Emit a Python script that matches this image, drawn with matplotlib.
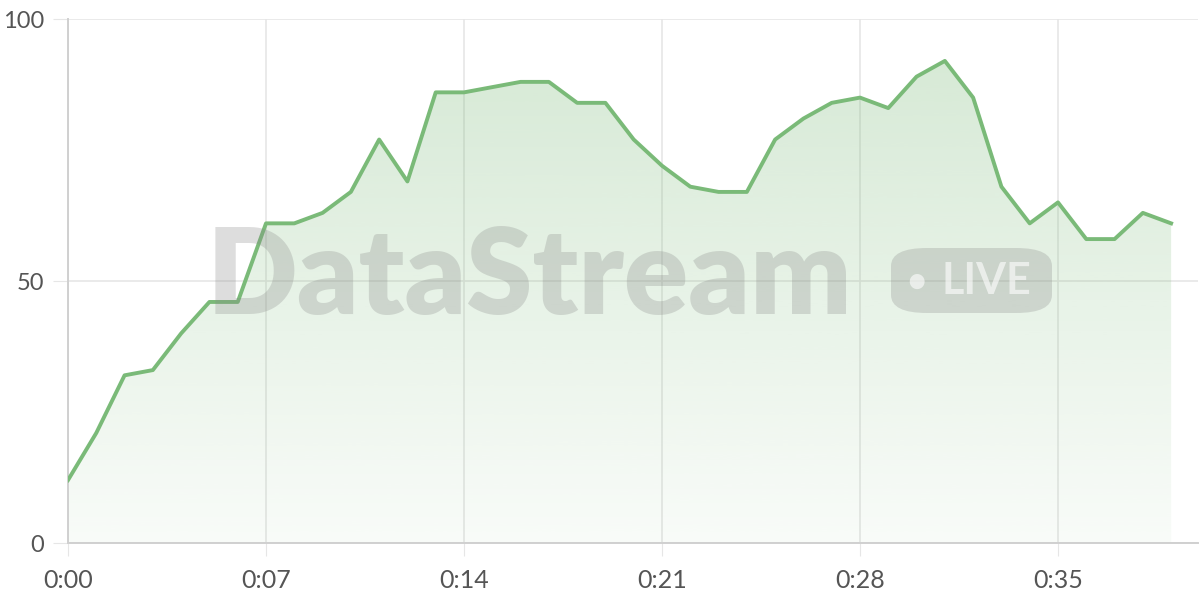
import numpy as np
import matplotlib.pyplot as plt
from matplotlib.colors import LinearSegmentedColormap
from matplotlib.patches import FancyBboxPatch, Polygon

minutes = list(range(40))
values = [12, 21, 32, 33, 40, 46, 46, 61, 61, 63, 67, 77, 69, 86, 86, 87, 88, 88, 84, 84,
          77, 72, 68, 67, 67, 77, 81, 84, 85, 83, 89, 92, 85, 68, 61, 65, 58, 58, 63, 61]
tick_pos = [0, 7, 14, 21, 28, 35]
tick_labels = ['0:00', '0:07', '0:14', '0:21', '0:28', '0:35']

plt.rcParams['font.family'] = ['Lato', 'DejaVu Sans']

fig = plt.figure(figsize=(12, 6), dpi=100)
ax = fig.add_axes([68 / 1200, 57 / 600, 1130 / 1200, 524 / 600])

line_c = '#7aba78'
ax.set_xlim(0, 39.95)
ax.set_ylim(0, 100)

# gradient fill under the line
grad = np.linspace(0.05, 0.33, 256).reshape(-1, 1)
cmap = LinearSegmentedColormap.from_list('g', [(0.49, 0.73, 0.48, 0.0), (0.49, 0.73, 0.48, 1.0)])
img = ax.imshow(grad, extent=[0, 39, 0, 100], origin='lower', aspect='auto',
                cmap=cmap, vmin=0, vmax=1, zorder=1)
poly = Polygon(list(zip(minutes, values)) + [(39, 0), (0, 0)], closed=True,
               facecolor='none', edgecolor='none')
ax.add_patch(poly)
img.set_clip_path(poly)

ax.plot(minutes, values, color=line_c, lw=2.8, zorder=3)

# watermark
fig.text(207 / 1200, 1 - 279 / 600, 'DataStream', fontsize=86, fontweight='heavy',
         color='#888888', alpha=0.28, ha='left', va='center', zorder=5)
box = FancyBboxPatch((891 / 1200, 1 - 313 / 600), 161 / 1200, 65 / 600,
                     boxstyle='round,pad=0,rounding_size=0.03', transform=fig.transFigure,
                     facecolor='#888888', edgecolor='none', alpha=0.28, zorder=5)
fig.patches.append(box)
fig.text(916 / 1200, 1 - 282 / 600, '\u25cf', fontsize=22, color='white', alpha=0.6,
         ha='center', va='center', zorder=6)
fig.text(986 / 1200, 1 - 281 / 600, 'LIVE', fontsize=31, fontweight='bold', color='white',
         alpha=0.6, ha='center', va='center', zorder=6)

ax.set_xticks(tick_pos)
ax.set_xticklabels(tick_labels)
ax.set_yticks([0, 50, 100])
ax.grid(True, color='#e6e6e6', lw=1.2, zorder=0)
ax.set_axisbelow(True)
for s in ['top', 'right']:
    ax.spines[s].set_visible(False)
for s in ['left', 'bottom']:
    ax.spines[s].set_color('#d0d0d0')
    ax.spines[s].set_linewidth(1.4)
ax.tick_params(axis='y', length=11, color='#e6e6e6', labelsize=17, labelcolor='#555555', pad=6)
ax.tick_params(axis='x', length=9, color='#e6e6e6', labelsize=18, labelcolor='#555555', pad=10)

fig.savefig('out.png', dpi=100)
